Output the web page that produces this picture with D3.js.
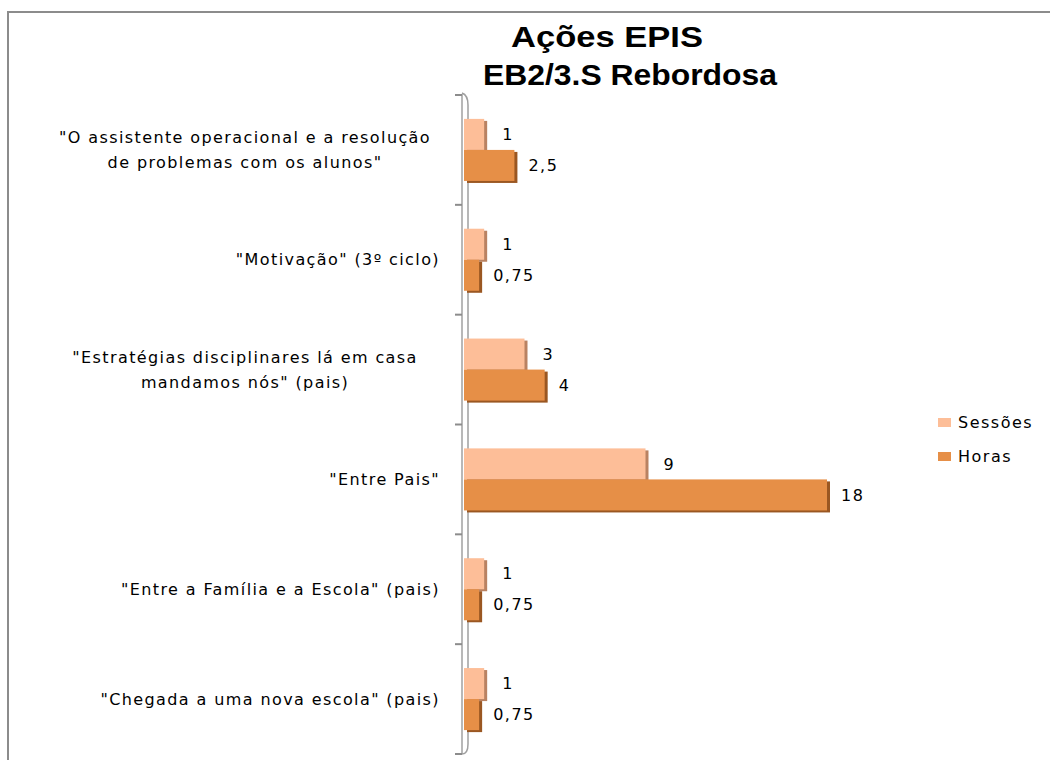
<!DOCTYPE html>
<html>
<head>
<meta charset="utf-8">
<script src="https://cdn.jsdelivr.net/npm/d3@7"></script>
<style>
  body { margin: 0; background: #fff; }
</style>
</head>
<body>
<div id="chart"></div>
<script>
const categories = [
    "\"O assistente operacional e a resolução\nde problemas com os alunos\"",
    "\"Motivação\" (3º ciclo)",
    "\"Estratégias disciplinares lá em casa\nmandamos nós\" (pais)",
    "\"Entre Pais\"",
    "\"Entre a Família e a Escola\" (pais)",
    "\"Chegada a uma nova escola\" (pais)"
];
const series = ["Sessões", "Horas"];
const sessoes = [1, 1, 3, 9, 1, 1];
const horas = [2.5, 0.75, 4, 18, 0.75, 0.75];

const width = 1050;
const height = 760;

const colors = { "Sessões": "#FDBE98", "Horas": "#E68F47" };
const sideColors = { "Sessões": "#B98262", "Horas": "#9A5722" };
const font = "'DejaVu Sans', Verdana, sans-serif";

const svg = d3.select("#chart").append("svg")
    .attr("width", width)
    .attr("height", height);

// outer frame
svg.append("rect")
    .attr("x", 8).attr("y", 12)
    .attr("width", 1060).attr("height", 800)
    .attr("fill", "none")
    .attr("stroke", "#8c8c8c")
    .attr("stroke-width", 2);

// title
const title = svg.append("text")
    .attr("text-anchor", "middle")
    .style("font-family", "'Liberation Sans', Arial, sans-serif")
    .style("font-weight", "bold")
    .style("font-size", "30px")
    .style("fill", "#000");
title.append("tspan").attr("x", 607).attr("y", 47)
    .attr("textLength", 192).attr("lengthAdjust", "spacingAndGlyphs")
    .text("Ações EPIS");
title.append("tspan").attr("x", 630).attr("y", 85)
    .attr("textLength", 294).attr("lengthAdjust", "spacingAndGlyphs")
    .text("EB2/3.S Rebordosa");

const x = d3.scaleLinear()
    .domain([0, 18])
    .range([464, 827]);

const y = d3.scaleBand()
    .domain(categories)
    .range([95, 754])
    .paddingInner(0.435)
    .paddingOuter(0.2175);

const ySub = d3.scaleBand()
    .domain(series)
    .range([0, y.bandwidth()]);

// 3D axis wall
const axisG = svg.append("g");
const yTop = y.range()[0];
const yBot = y.range()[1];
axisG.append("path")
    .attr("d", `M462,${yBot} L462,${yTop} L455,${yTop}`)
    .attr("fill", "none").attr("stroke", "#b8b8b8").attr("stroke-width", 2);
axisG.append("path")
    .attr("d", `M468,${yBot - 10} L468,${yTop + 10} Q468,${yTop} 462,${yTop - 2}`)
    .attr("fill", "none").attr("stroke", "#a0a0a0").attr("stroke-width", 1.5);
axisG.append("path")
    .attr("d", `M468,${yBot - 10} Q468,${yBot} 462,${yBot}`)
    .attr("fill", "none").attr("stroke", "#a0a0a0").attr("stroke-width", 1.5);

const boundaries = d3.range(categories.length + 1).map(i => yTop + i * y.step());
axisG.selectAll(".tick")
    .data(boundaries)
    .enter()
    .append("line")
    .attr("x1", 455).attr("x2", 462)
    .attr("y1", d => d).attr("y2", d => d)
    .attr("stroke", "#8c8c8c")
    .attr("stroke-width", 2);

// category labels
const lineH = 25;
categories.forEach(cat => {
    const lines = cat.split("\n");
    const cy = y(cat) + y.bandwidth() / 2;
    const t = svg.append("text")
        .style("font-family", font)
        .style("font-size", "16px")
        .style("letter-spacing", "1.4px")
        .style("fill", "#000");
    lines.forEach((ln, i) => {
        t.append("tspan")
            .attr("x", lines.length > 1 ? 245 : 440)
            .attr("text-anchor", lines.length > 1 ? "middle" : "end")
            .attr("y", cy - (lines.length - 1) * lineH / 2 + i * lineH)
            .attr("dy", "0.35em")
            .text(ln);
    });
});

// bars
const rows = [];
categories.forEach((c, i) => {
    rows.push({ cat: c, s: "Sessões", v: sessoes[i] });
    rows.push({ cat: c, s: "Horas", v: horas[i] });
});

const barG = svg.append("g");
barG.selectAll(".side")
    .data(rows)
    .enter()
    .append("rect")
    .attr("x", x(0) + 3)
    .attr("y", d => y(d.cat) + ySub(d.s) + 2)
    .attr("width", d => x(d.v) - x(0))
    .attr("height", ySub.bandwidth())
    .attr("fill", d => sideColors[d.s]);

barG.selectAll(".bar")
    .data(rows)
    .enter()
    .append("rect")
    .attr("x", x(0))
    .attr("y", d => y(d.cat) + ySub(d.s))
    .attr("width", d => x(d.v) - x(0))
    .attr("height", ySub.bandwidth())
    .attr("fill", d => colors[d.s]);

// value labels
barG.selectAll(".label")
    .data(rows)
    .enter()
    .append("text")
    .attr("x", d => x(d.v) + (d.s === "Sessões" ? 18 : 14))
    .attr("y", d => y(d.cat) + ySub(d.s) + ySub.bandwidth() / 2)
    .attr("dy", "0.35em")
    .style("font-family", font)
    .style("font-size", "16px")
    .style("letter-spacing", "1.5px")
    .style("fill", "#000")
    .text(d => String(d.v).replace(".", ","));

// legend
const legend = svg.append("g");
series.forEach((s, i) => {
    const ly = 422 + i * 34;
    legend.append("rect")
        .attr("x", 938).attr("y", ly - 4)
        .attr("width", 13).attr("height", 9)
        .attr("fill", colors[s]);
    legend.append("text")
        .attr("x", 958).attr("y", ly)
        .attr("dy", "0.35em")
        .style("font-family", font)
        .style("font-size", "16px")
        .style("letter-spacing", "1.5px")
        .style("fill", "#000")
        .text(s);
});
</script>
</body>
</html>
